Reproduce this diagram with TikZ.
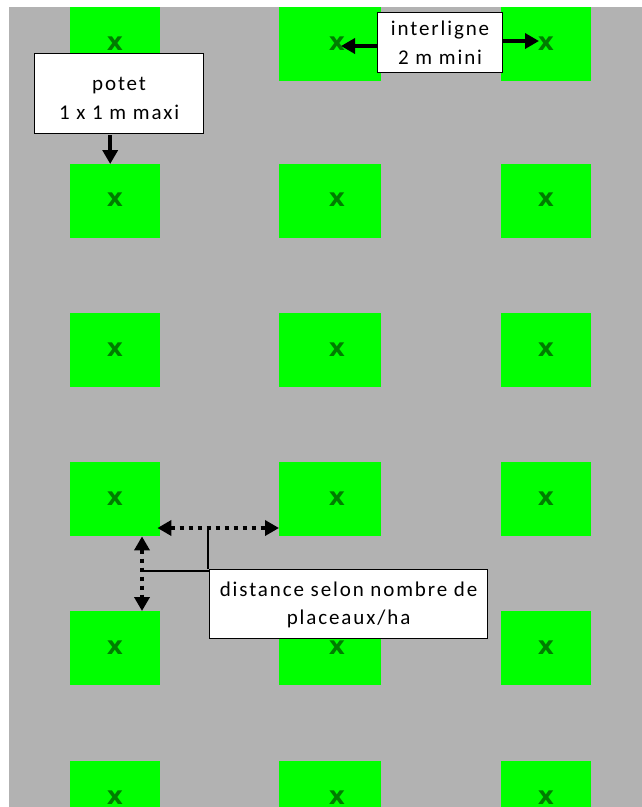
\documentclass[tikz,border=0pt]{standalone}
\usepackage{fontspec}
\setmainfont{Carlito}
\newfontfamily\xmarkfont{DejaVu Sans}
\usetikzlibrary{arrows.meta}
\definecolor{bggray}{RGB}{178,178,178}
\definecolor{plotgreen}{RGB}{0,255,0}
\definecolor{xgreen}{RGB}{0,125,0}
\tikzset{
  plot/.style={fill=plotgreen, draw=none, inner sep=0pt, anchor=north west},
  xmark/.style={text=xgreen, font=\xmarkfont\bfseries\fontsize{25}{25}\selectfont, inner sep=0pt},
  label box/.style={draw=black, line width=1.2pt, fill=white, inner sep=0pt, anchor=north west},
  label text/.style={align=center, inner sep=0pt,
     font=\fontsize{21}{28.5}\selectfont\addfontfeatures{LetterSpace=9}},
  bold arrow/.style={line width=3.6pt, -{Triangle[width=15pt,length=14pt]}},
  dot arrow/.style={line width=3.6pt, dash pattern=on 4.5pt off 4.5pt,
     {Triangle[width=15pt,length=14pt]}-{Triangle[width=15pt,length=14pt]}},
  callout/.style={line width=1.8pt}
}
\begin{document}
\begin{tikzpicture}[x=1pt,y=-1pt]
\useasboundingbox (0,0) rectangle (642,807);
\fill[white] (0,0) rectangle (642,807);
\fill[bggray] (9,7) rectangle (642,807);
% plots: columns and rows
\node[plot, minimum width=90pt, minimum height=74pt] (p11) at (70,7) {};
\node[plot, minimum width=102pt, minimum height=74pt] (p12) at (279,7) {};
\node[plot, minimum width=90pt, minimum height=74pt] (p13) at (501,7) {};
\foreach \r/\y in {2/164,3/313,4/462,5/611}{
  \node[plot, minimum width=90pt, minimum height=74pt] (p\r1) at (70,\y) {};
  \node[plot, minimum width=102pt, minimum height=74pt] (p\r2) at (279,\y) {};
  \node[plot, minimum width=90pt, minimum height=74pt] (p\r3) at (501,\y) {};
}
\node[plot, minimum width=90pt, minimum height=46pt] (p61) at (70,761) {};
\node[plot, minimum width=102pt, minimum height=46pt] (p62) at (279,761) {};
\node[plot, minimum width=90pt, minimum height=46pt] (p63) at (501,761) {};
% x marks
\foreach \r/\y in {1/44,2/200,3/350,4/499,5/648,6/798}{
  \node[xmark] (x\r1) at (115,\y) {x};
  \node[xmark] (x\r2) at (337,\y) {x};
  \node[xmark] (x\r3) at (546,\y) {x};
}
% label boxes
\node[label box, minimum width=169pt, minimum height=80pt] (potet) at (34,53) {};
\node[label text] (potett) at ([yshift=-5pt]potet.center) {potet\\1 x 1 m maxi};
\node[label box, minimum width=125pt, minimum height=60pt] (inter) at (377,12) {};
\node[label text] (intert) at (inter.center) {interligne\\2 m mini};
\node[label box, minimum width=278pt, minimum height=69pt] (dist) at (209,569) {};
\node[label text] (distt) at ([yshift=-1pt]dist.center) {distance selon nombre de\\placeaux/ha};
% arrows
\draw[bold arrow] (potet.south -| p21.north) ++(-5,1) coordinate (pa) -- (pa |- p21.north);
\coordinate (il) at (341,46);
\coordinate (ir) at (539,41);
\draw[bold arrow] (inter.west |- il) -- (il);
\draw[bold arrow] (inter.east |- ir) -- (ir);
\coordinate (hy) at (0,528);
\coordinate (vx) at (142,0);
\draw[dot arrow] (p41.east |- hy) ++(-3,0) -- (p42.west |- hy);
\draw[dot arrow] (vx |- p41.south) -- (vx |- p51.north);
\coordinate (c1) at (208,528);
\coordinate (c2) at (142,571);
\draw[callout] (dist.north -| c1) -- (c1);
\draw[callout] (dist.west |- c2) -- (c2);
\end{tikzpicture}
\end{document}
